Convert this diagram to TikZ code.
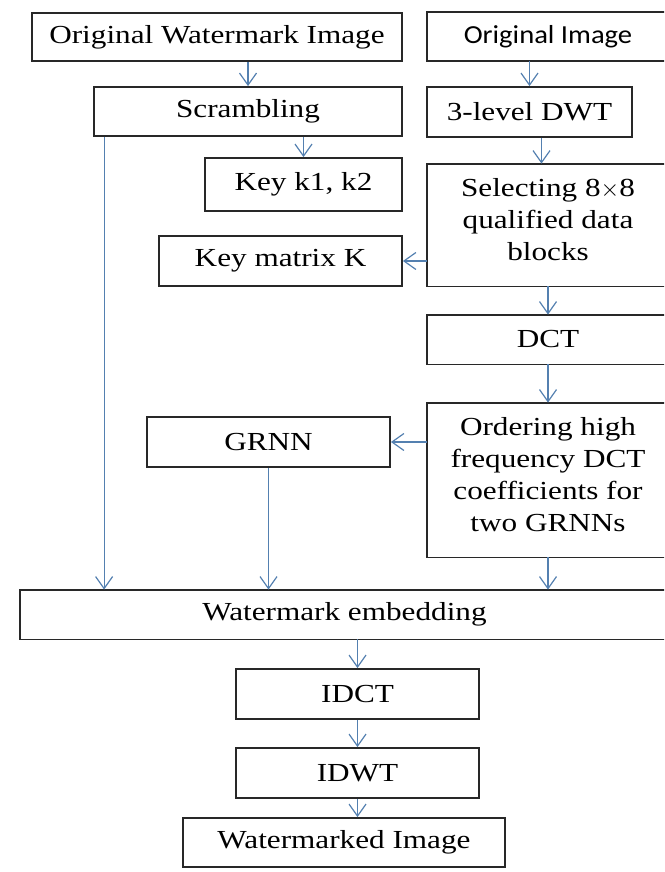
\documentclass[tikz,border=0pt]{standalone}
\usepackage{fontspec}
\setmainfont[FakeStretch=1.2]{Liberation Serif}
\newfontfamily\calfont[FakeStretch=1.1]{Carlito}
\usetikzlibrary{arrows.meta}
\definecolor{arrowblue}{RGB}{84,128,176}
\definecolor{boxgray}{RGB}{40,40,40}
\tikzset{boxline/.style={draw=boxgray,line width=0.9pt}}

\begin{document}
\begin{tikzpicture}[x=0.5pt,y=-0.5pt]
\useasboundingbox (0,0) rectangle (664,872);
\clip (0,0) rectangle (664,872);
\begin{scope}[every node/.style={boxline,fill=white,inner sep=0pt,
              align=center,font=\fontsize{13}{16}\selectfont}]
    \node[minimum width=185pt,minimum height=24pt] (A) at (217,37) {Original Watermark Image};
    \node[minimum width=154pt,minimum height=24.5pt] (C) at (248,111.5) {Scrambling};
    \node[minimum width=102.5pt,minimum height=25pt] (D) at (529.5,112) {3-level DWT};
    \node[minimum width=98.5pt,minimum height=26.5pt] (E) at (303.5,184.5) {Key k1, k2};
    \node[minimum width=121.5pt,minimum height=25pt] (G) at (280.5,261) {Key matrix K};
    \node[minimum width=121.5pt,minimum height=25pt] (J) at (268.5,442) {GRNN};
    \node[minimum width=121.5pt,minimum height=25pt] (L) at (357.5,694) {IDCT};
    \node[minimum width=121.5pt,minimum height=25pt] (M) at (357.5,773) {IDWT};
    \node[minimum width=161pt,minimum height=24.5pt] (N) at (344,842.5) {Watermarked Image};
\end{scope}

% boxes running off the right edge
\begin{scope}[every node/.style={draw=none,inner sep=0pt,
              align=center,font=\fontsize{13}{16}\selectfont}]
    \node[minimum width=121pt,minimum height=24pt,font=\fontsize{13}{16}\calfont] (B) at (548,36.5) {Original Image};
    \node[minimum width=121pt,minimum height=61pt] (F) at (548,225) {Selecting 8$\times$8\\qualified data\\blocks\\[-10pt]\mbox{}};
    \node[minimum width=121pt,minimum height=24.5pt] (H) at (548,339.5) {DCT};
    \node[minimum width=121pt,minimum height=77pt] (I) at (548,480) {Ordering high\\frequency DCT\\coefficients for\\two GRNNs\\[-10pt]\mbox{}};
    \node[minimum width=324.5pt,minimum height=24.5pt] (K) at (344.5,614.5) {Watermark embedding};
\end{scope}
\foreach \n in {B,F,H,I,K}
    \draw[boxline] (\n.north east) -- (\n.north west) -- (\n.south west) -- (\n.south east);

\begin{scope}[>={Straight Barb[length=6pt,width=8.5pt]},
              every edge/.style={draw=arrowblue,line width=0.6pt}]
    \path [->] (A.south -| C.north) edge (C.north);
    \path [->] (B.south -| D.north) edge (D.north);
    \path [->] ([xshift=6pt]D.south) edge ([xshift=6pt]D.south |- F.north);
    \path [->] (C.south -| E.north) edge (E.north);
    \path [->] (F.west |- G.east) edge (G.east);
    \path [->] (F.south) edge (H.north);
    \path [->] (H.south) edge (I.north);
    \path [->] (I.west |- J.east) edge (J.east);
    \path [->] ([xshift=5.5pt]C.south west) edge ([xshift=5.5pt]C.south west |- K.north);
    \path [->] (J.south) edge (J.south |- K.north);
    \path [->] (I.south) edge (I.south |- K.north);
    \path [->] (L.north |- K.south) edge (L.north);
    \path [->] (L.south) edge (M.north);
    \path [->] (M.south) edge (M.south |- N.north);
\end{scope}
\end{tikzpicture}
\end{document}
